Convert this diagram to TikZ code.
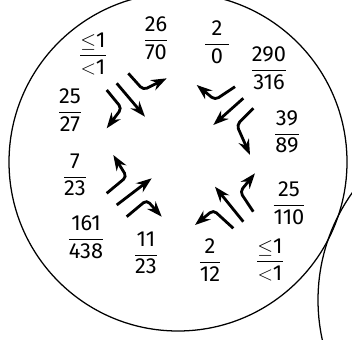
\documentclass[tikz,border=0pt]{standalone}
\usepackage{amsmath}
\usepackage{fontspec}
\setmainfont{Fira Sans}
\usetikzlibrary{arrows.meta}

\newcommand{\strom}[2]{$\dfrac{\text{#1}}{\text{#2}}$}

\begin{document}
\begin{tikzpicture}[x=0.025cm, y=-0.025cm,
    every node/.style={font=\fontsize{15.5}{18}\selectfont, inner sep=0pt},
    pfeil/.style={line width=2pt, -{Stealth[length=11pt, width=8pt]}},
    knick/.style={pfeil, rounded corners=3pt},
    kreis/.style={line width=0.9pt}]
	\useasboundingbox (0,0) rectangle (352,339);
	\clip (0,0) rectangle (352,339);
	
	% Kreuzungen (Kreise)
	\draw[kreis] (178,162) circle [radius=169];
	\draw[kreis] (503,300) circle [radius=185];
	
	% Zufahrt Nordwest
	\draw[knick] (128.3,73.3) -- (143.3,90) -- (166.7,78.3);
	\draw[pfeil] (116.7,83.3) -- (145,116.7);
	\draw[knick] (106.7,90) -- (121.7,108.3) -- (106.7,128.3);
	
	% Zufahrt Nordost
	\draw[knick] (235,86.7) -- (215,100) -- (196.7,85);
	\draw[pfeil] (243.3,98.3) -- (213.3,125);
	\draw[knick] (253.3,108.3) -- (236.7,125) -- (250,155);
	
	% Zufahrt Suedwest
	\draw[knick] (106.7,193.3) -- (126.7,176.7) -- (113.3,155);
	\draw[pfeil] (116.7,205) -- (151.7,178.3);
	\draw[knick] (126.7,216.7) -- (146.7,200) -- (161.7,216.7);
	
	% Zufahrt Suedost
	\draw[knick] (233.3,228.3) -- (213.3,210) -- (195,225);
	\draw[pfeil] (243.3,221.7) -- (215,186.7);
	\draw[knick] (253.3,211.7) -- (240,191.7) -- (255,173.3);
	
	% Verkehrsstaerken
	\node (nwa) at (93,54) {\strom{$\leq$1}{$<$1}};
	\node (nwb) at (156,38) {\strom{26}{70}};
	\node (nwc) at (70,110) {\strom{25}{27}};
	\node (noa) at (217,42) {\strom{\makebox[1.1em]{2}}{0}};
	\node (nob) at (269,68) {\strom{290}{316}};
	\node (noc) at (287,132) {\strom{39}{89}};
	\node (swa) at (75,175) {\strom{7}{23}};
	\node (swb) at (86,237) {\strom{161}{438}};
	\node (swc) at (146,253) {\strom{11}{23}};
	\node (soa) at (289,203) {\strom{25}{110}};
	\node (sob) at (210,260) {\strom{2}{12}};
	\node (soc) at (270,260) {\strom{$\leq$1}{$<$1}};
\end{tikzpicture}
\end{document}
